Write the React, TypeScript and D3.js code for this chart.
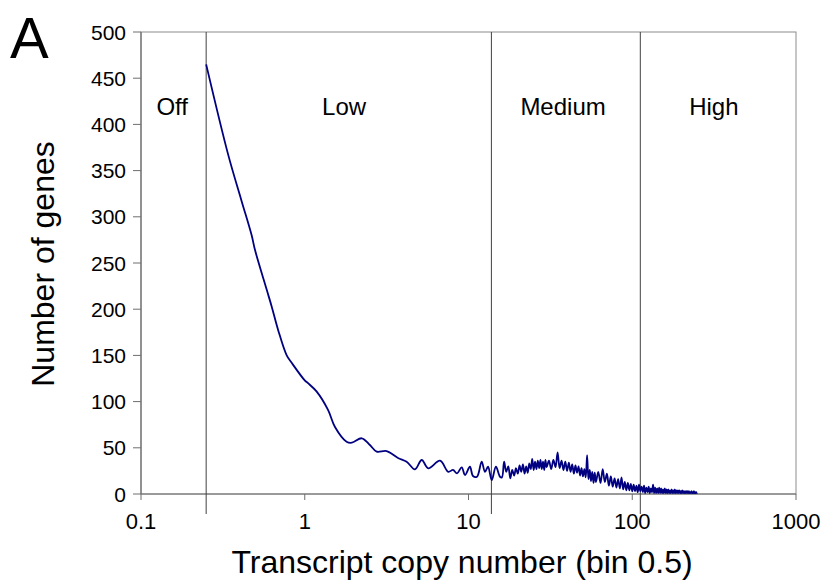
import React from "react";
import * as d3 from "d3";

// Genes per transcript copy-number bin (low end, smooth part of the distribution)
const lowCopyNumber = [
  0.25, 0.341, 0.41, 0.474, 0.497, 0.586, 0.628, 0.689, 0.776, 0.832, 1.0, 1.047,
  1.18, 1.387, 1.53, 1.8, 1.94, 2.23, 2.5, 2.75, 3.16, 3.71, 4.19, 4.71, 5.18,
  5.68, 6.7, 7.53, 8.04, 8.51, 9.09, 9.52, 10.2, 10.65, 11.27, 12.04, 12.6, 13.16,
  13.86, 14.7, 15.57,
];
const lowGeneCount = [
  465, 367, 318, 280, 264, 221, 203, 177, 150, 142, 123, 120, 111, 91, 72.5, 56.6,
  55.5, 60.3, 53, 45.8, 46.5, 39, 35, 26.7, 36.8, 27.8, 36, 24, 26, 22.4, 28.9,
  20.6, 29.5, 19.5, 18.7, 35, 24, 29.5, 15, 29.5, 18.7,
];

// Bins of 0.5 from 16 to 30
const midGeneCount = [
  18, 35, 24, 30, 17, 26, 20, 28, 22, 31, 24, 32, 22, 30, 23, 33, 27, 38, 26, 35,
  27, 36, 28, 37, 27, 35, 26, 37, 29,
];
// Bins of 1 from 31 to 60
const upperGeneCount = [
  36, 27, 37, 29, 45, 28, 36, 26, 35, 25, 34, 24, 32, 22, 31, 23, 30, 20, 28, 19,
  27, 18, 42, 16, 26, 14, 24, 12, 23, 13,
];
// Bins of 2 from 62 to 250
const highGeneCount = [
  24, 12, 27, 13, 22, 9, 19, 8, 17, 7, 16, 6, 18, 5, 13, 4, 12, 4, 11, 3, 10, 3, 9,
  2, 10, 3, 8, 2, 9, 1, 7, 2, 8, 1, 6, 2, 10, 1, 7, 1, 6, 1, 7, 1, 6, 1, 5, 1, 6, 1,
  5, 1, 5, 1, 4, 1, 5, 1, 4, 1, 5, 1, 4, 1, 4, 1, 4, 1, 3, 1, 4, 1, 3, 1, 3, 1, 3,
  1, 3, 1, 3, 1, 2, 1, 3, 1, 2, 1, 3, 1, 2, 1, 2, 1, 1,
];

// Expression class boundaries and labels
const boundaries = [0.25, 13.8, 112];
const regionLabels = ["Off", "Low", "Medium", "High"];
const regionLabelX = [0.155, 1.74, 37.8, 315];

const yTicks = [0, 50, 100, 150, 200, 250, 300, 350, 400, 450, 500];
const xTicks = [0.1, 1, 10, 100, 1000];
const xTickLabels = ["0.1", "1", "10", "100", "1000"];

const W = 827;
const H = 585;
const left = 141;
const right = 796;
const top = 32;
const bottom = 494;
const FONT = "'Liberation Sans', Arial, Helvetica, sans-serif";

export default function App() {
  const x = d3.scaleLog().domain([0.1, 1000]).range([left, right]);
  const y = d3.scaleLinear().domain([0, 500]).range([bottom, top]);

  const pts: [number, number][] = [];
  lowCopyNumber.forEach((c, i) => pts.push([c, lowGeneCount[i]]));
  d3.range(16, 30.01, 0.5).forEach((c, i) => pts.push([c, midGeneCount[i]]));
  d3.range(31, 60.01, 1).forEach((c, i) => pts.push([c, upperGeneCount[i]]));
  d3.range(62, 250.01, 2).forEach((c, i) => pts.push([c, highGeneCount[i]]));

  const line = d3
    .line<[number, number]>()
    .x((d) => x(d[0]))
    .y((d) => y(d[1]))
    .curve(d3.curveCatmullRom.alpha(0.5));

  return (
    <svg
      width={W}
      height={H}
      style={{ position: "absolute", left: 0, top: 0, background: "#fff" }}
      fontFamily={FONT}
    >
      {/* plot frame */}
      <rect x={left} y={top} width={right - left} height={bottom - top} fill="none" stroke="#8c8c8c" strokeWidth={1} />
      {/* y axis */}
      <line x1={left} x2={left} y1={top} y2={bottom} stroke="#6e6e6e" strokeWidth={1.2} />
      {yTicks.map((t) => (
        <g key={t}>
          <line x1={left - 8} x2={left} y1={y(t)} y2={y(t)} stroke="#6e6e6e" strokeWidth={1} />
          <text x={left - 15} y={y(t)} dy="0.36em" textAnchor="end" fontSize={21} fill="#000">
            {t}
          </text>
        </g>
      ))}
      {/* x axis */}
      <line x1={left} x2={right} y1={bottom} y2={bottom} stroke="#6e6e6e" strokeWidth={1.2} />
      {xTicks.map((t, i) => (
        <g key={t}>
          <line x1={x(t)} x2={x(t)} y1={bottom} y2={bottom + 6} stroke="#6e6e6e" strokeWidth={1} />
          <text x={x(t)} y={529} textAnchor="middle" fontSize={22} fill="#000">
            {xTickLabels[i]}
          </text>
        </g>
      ))}
      {/* class boundaries */}
      {boundaries.map((b) => (
        <line key={b} x1={x(b)} x2={x(b)} y1={top} y2={514} stroke="#404040" strokeWidth={1} />
      ))}
      {regionLabels.map((l, i) => (
        <text key={l} x={x(regionLabelX[i])} y={115} textAnchor="middle" fontSize={24} fill="#000">
          {l}
        </text>
      ))}
      {/* distribution */}
      <path d={line(pts) ?? ""} fill="none" stroke="#000080" strokeWidth={1.8} strokeLinejoin="round" />
      {/* axis titles */}
      <text x={462} y={573} textAnchor="middle" fontSize={32} fill="#000">
        Transcript copy number (bin 0.5)
      </text>
      <text
        transform={`translate(54, 264) rotate(-90)`}
        textAnchor="middle"
        fontSize={32}
        fill="#000"
      >
        Number of genes
      </text>
      <text x={10} y={58} fontSize={58} fill="#000">
        A
      </text>
    </svg>
  );
}
